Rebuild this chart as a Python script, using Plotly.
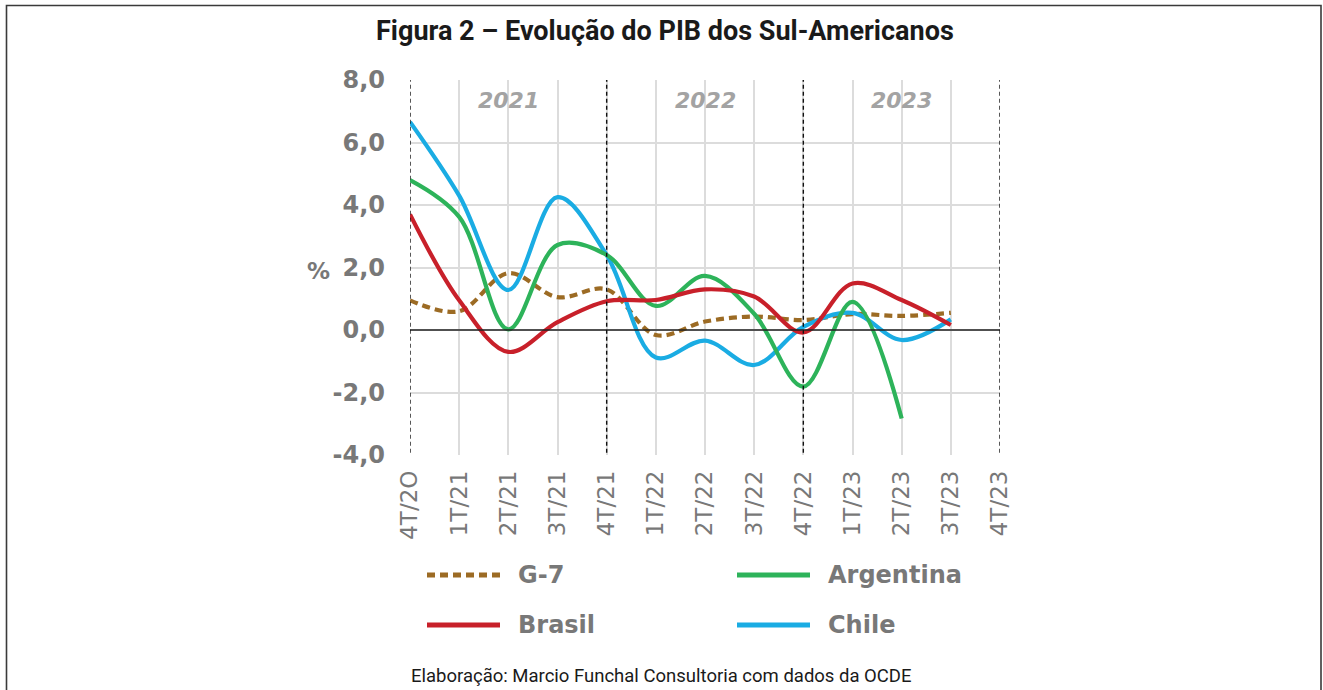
import plotly.graph_objects as go

quarters = ["4T/2O", "1T/21", "2T/21", "3T/21", "4T/21", "1T/22", "2T/22",
            "3T/22", "4T/22", "1T/23", "2T/23", "3T/23", "4T/23"]
g7 = [0.95, 0.6, 1.82, 1.05, 1.3, -0.16, 0.27, 0.43, 0.32, 0.51, 0.45, 0.55, None]
argentina = [4.8, 3.62, 0.02, 2.72, 2.4, 0.77, 1.73, 0.52, -1.81, 0.9, -2.83, None, None]
brasil = [3.7, 0.95, -0.7, 0.25, 0.92, 0.96, 1.3, 1.07, -0.08, 1.49, 0.96, 0.16, None]
chile = [6.66, 4.3, 1.28, 4.25, 2.4, -0.88, -0.34, -1.12, 0.1, 0.55, -0.32, 0.34, None]
year_labels = ["2021", "2022", "2023"]
year_pos = [2, 6, 10]
year_bounds = [0, 4, 8, 12]
y_ticks = [-4, -2, 0, 2, 4, 6, 8]
y_ticktext = ["-4,0", "-2,0", "0,0", "2,0", "4,0", "6,0", "8,0"]

series = [
    ("G-7", g7, "#9C6B24", "dash"),
    ("Argentina", argentina, "#2DB35A", "solid"),
    ("Brasil", brasil, "#C8202A", "solid"),
    ("Chile", chile, "#1AACE3", "solid"),
]
draw_order = ["G-7", "Chile", "Argentina", "Brasil"]

W, H = 1323, 690
L, T = 410, 80
R = W - 1000
B = H - 455
pw, ph = W - L - R, H - T - B

def px(xpix):
    return (xpix - L) / pw

def py(ypix):
    return 1 - (ypix - T) / ph

fig = go.Figure()
xs = list(range(len(quarters)))
sd = {s[0]: s for s in series}
for name in draw_order:
    n, vals, color, dash = sd[name]
    fig.add_trace(go.Scatter(
        x=xs, y=vals, mode="lines", name=n,
        line=dict(color=color, width=4.2, dash="8px,5px" if dash == "dash" else "solid",
                  shape="spline", smoothing=1.0),
        connectgaps=False, showlegend=False))

GRAY = "#787878"
FONT = "DejaVu Sans"

shapes = []
shapes.append(dict(type="line", xref="x", yref="y", x0=0, x1=12, y0=0, y1=0,
                   line=dict(color="#222222", width=1.6), layer="above"))
for b in year_bounds:
    shapes.append(dict(type="line", xref="x", yref="y", x0=b, x1=b, y0=-4.15, y1=8.35,
                       line=dict(color="#111111", width=1.4, dash="4px,3px"), layer="above"))
shapes.append(dict(type="rect", xref="paper", yref="paper",
                   x0=px(6.5), x1=px(1321), y0=py(720), y1=py(5.5),
                   line=dict(color="#3a3a3a", width=1.6), fillcolor="rgba(0,0,0,0)"))

annotations = []
for lab, pos in zip(year_labels, year_pos):
    annotations.append(dict(x=pos, y=7.35, xref="x", yref="y", text="<b><i>%s</i></b>" % lab,
                            showarrow=False, font=dict(family=FONT, size=22, color="#a3a3a3")))
annotations.append(dict(x=px(332), y=py(271), xref="paper", yref="paper", text="<b>%</b>",
                        showarrow=False, xanchor="right", yanchor="middle",
                        font=dict(family=FONT, size=23, color=GRAY)))
annotations.append(dict(x=px(665), y=py(31), xref="paper", yref="paper",
                        text="<b>Figura 2 – Evolução do PIB dos Sul-Americanos</b>",
                        showarrow=False, xanchor="center", yanchor="middle",
                        font=dict(family="Roboto", size=27, color="#1a1a1a")))
annotations.append(dict(x=px(661), y=py(676), xref="paper", yref="paper",
                        text="Elaboração: Marcio Funchal Consultoria com dados da OCDE",
                        showarrow=False, xanchor="center", yanchor="middle",
                        font=dict(family="Roboto", size=18.5, color="#1a1a1a")))

legend_pos = {"G-7": (427, 575), "Argentina": (737, 575), "Brasil": (427, 625), "Chile": (737, 625)}
for n, vals, color, dash in series:
    x0, yy = legend_pos[n]
    shapes.append(dict(type="line", xref="paper", yref="paper",
                       x0=px(x0), x1=px(x0 + 73), y0=py(yy), y1=py(yy),
                       line=dict(color=color, width=5, dash="8px,5px" if dash == "dash" else "solid")))
    annotations.append(dict(x=px(x0 + 89), y=py(yy), xref="paper", yref="paper",
                            text="<b>%s</b>" % n, showarrow=False, xanchor="left", yanchor="middle",
                            font=dict(family=FONT, size=24, color=GRAY)))

fig.update_layout(
    width=W, height=H,
    margin=dict(l=L, r=R, t=T, b=B, autoexpand=False),
    paper_bgcolor="white", plot_bgcolor="white",
    shapes=shapes, annotations=annotations,
    showlegend=False,
)
fig.update_xaxes(
    range=[0, 12], tickmode="array", tickvals=xs, ticktext=quarters,
    tickangle=-90, tickfont=dict(family=FONT, size=23, color=GRAY),
    showgrid=True, gridcolor="#dcdcdc", gridwidth=2,
    zeroline=False, showline=False, ticks="", ticklabelstandoff=10,
)
fig.update_yaxes(
    range=[-4, 8], tickmode="array", tickvals=y_ticks,
    ticktext=["<b>%s</b>" % t for t in y_ticktext],
    tickfont=dict(family=FONT, size=24, color=GRAY),
    showgrid=True, gridcolor="#dcdcdc", gridwidth=2,
    zeroline=False, showline=False, ticks="", ticklabelstandoff=24,
)

fig.write_html("out.html", config={"displayModeBar": False},
               post_script="document.body.style.margin='0';document.body.style.overflow='hidden';")
